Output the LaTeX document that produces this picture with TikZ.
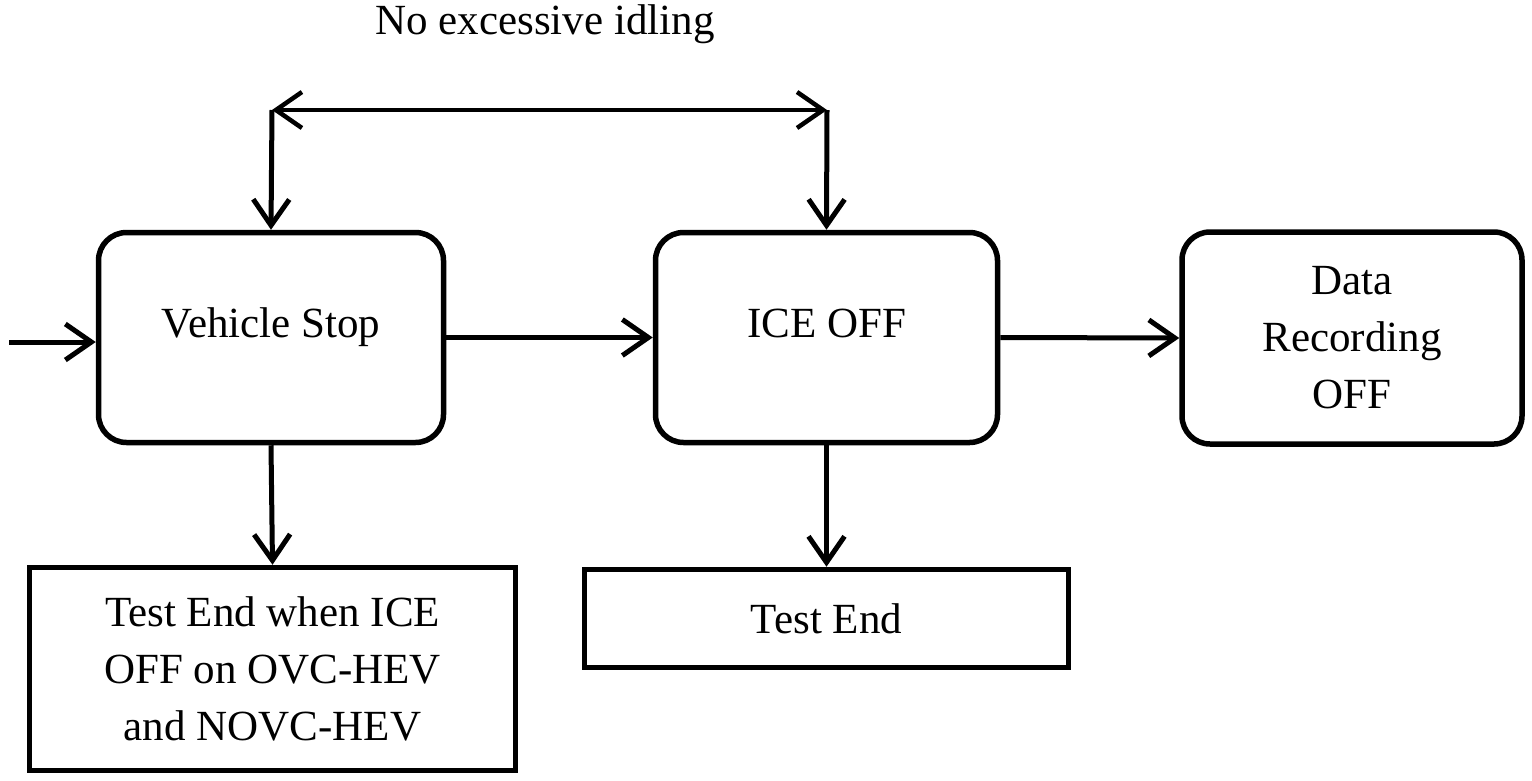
\documentclass[tikz,border=0pt]{standalone}
\usepackage{fontspec}
\setmainfont{Liberation Serif}
\usetikzlibrary{arrows.meta}
\begin{document}
\begin{tikzpicture}[x=1pt,y=-1pt,
  box/.style={draw, line width=5.5pt, align=center, font=\fontsize{43}{57}\selectfont, inner sep=0pt},
  rbox/.style={box, rounded corners=28pt},
  onel/.style={text height=30pt, text depth=30pt},
  conn/.style={line width=5pt, -{Straight Barb[length=26pt,width=36pt]}},
  dconn/.style={line width=4.5pt, {Straight Barb[length=26pt,width=36pt]}-{Straight Barb[length=26pt,width=36pt]}},
  lbl/.style={font=\fontsize{43}{57}\selectfont, inner sep=0pt}
]
\useasboundingbox (0,0) rectangle (1532,780);

\node[rbox, onel, minimum width=345pt, minimum height=210pt] (vs) at (271,337.5) {Vehicle Stop};
\node[rbox, onel, minimum width=342pt, minimum height=210pt] (ice) at (826.5,337.5) {ICE OFF};
\node[rbox, minimum width=340pt, minimum height=212pt] (data) at (1352,338) {Data\\Recording\\OFF};
\node[box, minimum width=486pt, minimum height=203pt] (te1) at (272.5,669) {Test End when ICE\\OFF on OVC-HEV\\and NOVC-HEV};
\node[box, minimum width=484pt, minimum height=98pt] (te2) at (826.5,618.5) {Test End};

\node[lbl] (idl) at (545,24) {No excessive idling};

\coordinate (tl) at (272,110);
\coordinate (tr) at (827,110);
\coordinate (in) at (9,342);

\draw[dconn] (tl) -- (tr);
\draw[conn] (tl) -- (vs.north);
\draw[conn] (tr) -- (ice.north);
\draw[conn] (in) -- (in -| vs.west);
\draw[conn] (vs.east) -- (ice.west);
\draw[conn] (ice.east) -- (data.west);
\draw[conn] (vs.south) -- (te1.north);
\draw[conn] (ice.south) -- (te2.north);
\end{tikzpicture}
\end{document}
